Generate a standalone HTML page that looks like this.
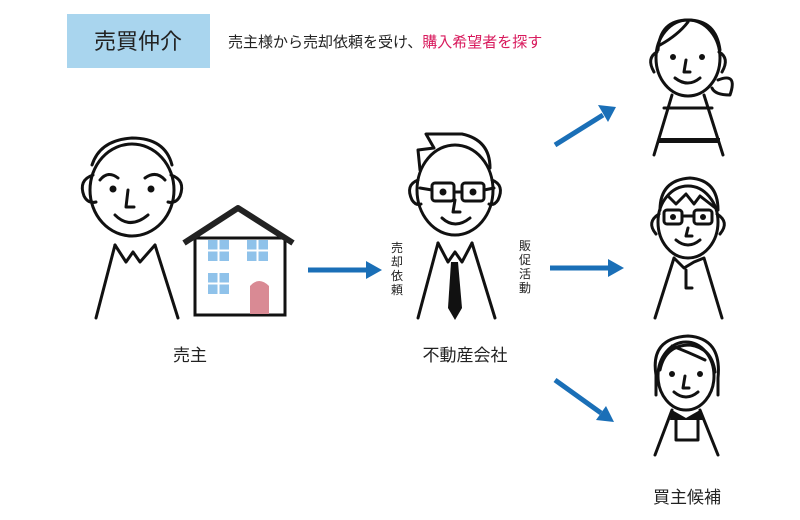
<!DOCTYPE html>
<html><head><meta charset="utf-8"><style>
html,body{margin:0;padding:0;background:#fff;}
svg{display:block}
text{font-family:"Liberation Sans","Noto Sans CJK JP",sans-serif;}
</style></head><body>
<svg width="800" height="520" viewBox="0 0 800 520" xmlns="http://www.w3.org/2000/svg">
<rect x="67" y="14" width="143" height="54" fill="#a9d5ee"/>
<text x="138" y="49" font-size="22" text-anchor="middle" fill="#222">売買仲介</text>
<text x="228" y="47" font-size="15" fill="#222">売主様から売却依頼を受け、<tspan fill="#d8195c">購入希望者を探す</tspan></text>

<g fill="none" stroke="#111" stroke-width="3" stroke-linecap="round" stroke-linejoin="round">
<!-- seller -->
<ellipse cx="132" cy="190" rx="42" ry="46" fill="#fff"/>
<path d="M92,165 Q100,140 132,138 Q165,138 172,165"/>
<path d="M93,175 Q78,180 84,196 Q88,204 96,202"/>
<path d="M171,175 Q186,180 180,196 Q176,204 168,202"/>
<path d="M100,180 Q108,170 118,178 M145,178 Q156,170 165,180"/>
<path d="M128,190 L126,207 L134,207"/>
<path d="M115,215 Q130,230 148,215"/>
<path d="M115,245 L96,318 M155,245 L178,318"/>
<path d="M115,245 L126,262 L133,252 L140,262 L155,245"/>
<!-- agent -->
<ellipse cx="455" cy="190" rx="38" ry="45" fill="#fff"/>
<path d="M420,170 L418,150 L434,148 L426,134 L462,134 Q490,140 490,168"/>
<path d="M418,180 Q405,185 412,200 Q416,206 421,204 M492,180 Q505,185 498,200 Q494,206 489,204"/>
<rect x="432" y="183" width="22" height="18" rx="3"/><rect x="462" y="183" width="22" height="18" rx="3"/>
<path d="M454,192 L462,192 M432,190 L420,188 M484,190 L494,188"/>
<path d="M455,200 L453,212 L460,212 M442,218 Q455,230 470,218"/>
<path d="M438,243 L418,318 M472,243 L495,318"/>
<path d="M438,243 L448,262 L455,252 L462,262 L472,243"/>
<!-- buyer1 -->
<ellipse cx="688" cy="58" rx="32" ry="38" fill="#fff"/>
<path d="M658,50 Q660,20 688,20 Q716,20 720,50 M688,22 Q678,35 660,45"/>
<path d="M657,52 Q646,58 654,72 M719,52 Q730,58 722,72"/>
<path d="M718,80 Q738,72 730,95 Q715,95 712,88"/>
<path d="M686,60 L684,72 L690,72 M675,78 Q688,88 700,78"/>
<path d="M672,95 L654,155 M704,95 L723,155 M664,108 L712,108"/>
<!-- buyer2 -->
<ellipse cx="688" cy="222" rx="30" ry="36" fill="#fff"/>
<path d="M660,210 Q660,180 690,178 Q718,180 718,210 L700,196 L694,204 L686,194 L676,204 L668,196"/>
<path d="M659,214 Q646,222 656,234 M717,214 Q730,222 720,234"/>
<rect x="664" y="210" width="18" height="14" rx="3"/><rect x="694" y="210" width="18" height="14" rx="3"/>
<path d="M682,216 L694,216 M688,228 L686,236 L692,236 M676,240 Q688,250 700,240"/>
<path d="M674,258 L655,318 M704,258 L722,318 M674,258 L684,268 L694,262 L704,258 M686,270 L686,288 L692,288"/>
<!-- buyer3 -->
<ellipse cx="686" cy="376" rx="28" ry="34" fill="#fff"/>
<path d="M656,395 L656,375 Q650,338 688,336 Q722,338 718,378 L718,395"/>
<path d="M660,370 Q665,345 690,345 Q712,348 715,372 M672,346 Q688,352 705,360"/>
<path d="M685,376 L683,388 L689,388 M674,392 Q686,402 698,392"/>
<path d="M672,410 L655,455 M700,410 L718,455 M676,420 L676,440 L698,440 L698,420"/>
</g>
<g fill="#111">
<circle cx="113" cy="189" r="3.5"/><circle cx="151" cy="189" r="3.5"/>
<circle cx="443" cy="192" r="3.5"/><circle cx="473" cy="192" r="3.5"/>
<circle cx="673" cy="57" r="3"/><circle cx="702" cy="57" r="3"/>
<circle cx="673" cy="217" r="3"/><circle cx="703" cy="217" r="3"/>
<circle cx="672" cy="374" r="3"/><circle cx="700" cy="374" r="3"/>
<rect x="658" y="138" width="62" height="5"/>
<path d="M451,262 L458,262 L462,308 L455,320 L448,308 Z"/>
<path d="M672,410 L686,418 L700,410 L704,420 L670,420 Z"/>
</g>
<!-- house -->
<rect x="195" y="238" width="90" height="77" fill="#fff" stroke="#111" stroke-width="3"/>
<path d="M184,243 L238,208 L293,243" fill="none" stroke="#222" stroke-width="6" stroke-linejoin="round"/>
<g fill="#8fc2ea">
<rect x="208" y="240" width="21" height="21"/><rect x="247" y="240" width="21" height="21"/><rect x="208" y="273" width="21" height="21"/>
</g>
<g stroke="#fff" stroke-width="2"><path d="M218.5,240V261M208,250.5H229M257.5,240V261M247,250.5H268M218.5,273V294M208,283.5H229"/></g>
<path d="M250,314 L250,286 Q259,276 269,286 L269,314 Z" fill="#d98a94"/>
<!-- arrows -->
<g stroke="#1a6fb7" stroke-width="5" fill="#1a6fb7">
<line x1="308" y1="270" x2="368" y2="270"/><path d="M366,261 L382,270 L366,279 Z" stroke="none"/>
<line x1="550" y1="268" x2="610" y2="268"/><path d="M608,259 L624,268 L608,277 Z" stroke="none"/>
<line x1="555" y1="145" x2="603" y2="115"/><path d="M598,105 L616,107 L608,122 Z" stroke="none"/>
<line x1="555" y1="380" x2="601" y2="413"/><path d="M596,420 L614,422 L606,406 Z" stroke="none"/>
</g>
<g font-size="12" fill="#222">
<text x="397" y="252" text-anchor="middle">売</text><text x="397" y="266" text-anchor="middle">却</text><text x="397" y="280" text-anchor="middle">依</text><text x="397" y="294" text-anchor="middle">頼</text>
<text x="525" y="250" text-anchor="middle">販</text><text x="525" y="264" text-anchor="middle">促</text><text x="525" y="278" text-anchor="middle">活</text><text x="525" y="292" text-anchor="middle">動</text>
</g>
<g font-size="17" fill="#222" text-anchor="middle">
<text x="190" y="361">売主</text>
<text x="465" y="361">不動産会社</text>
<text x="687" y="503">買主候補</text>
</g>
</svg>
</body></html>
